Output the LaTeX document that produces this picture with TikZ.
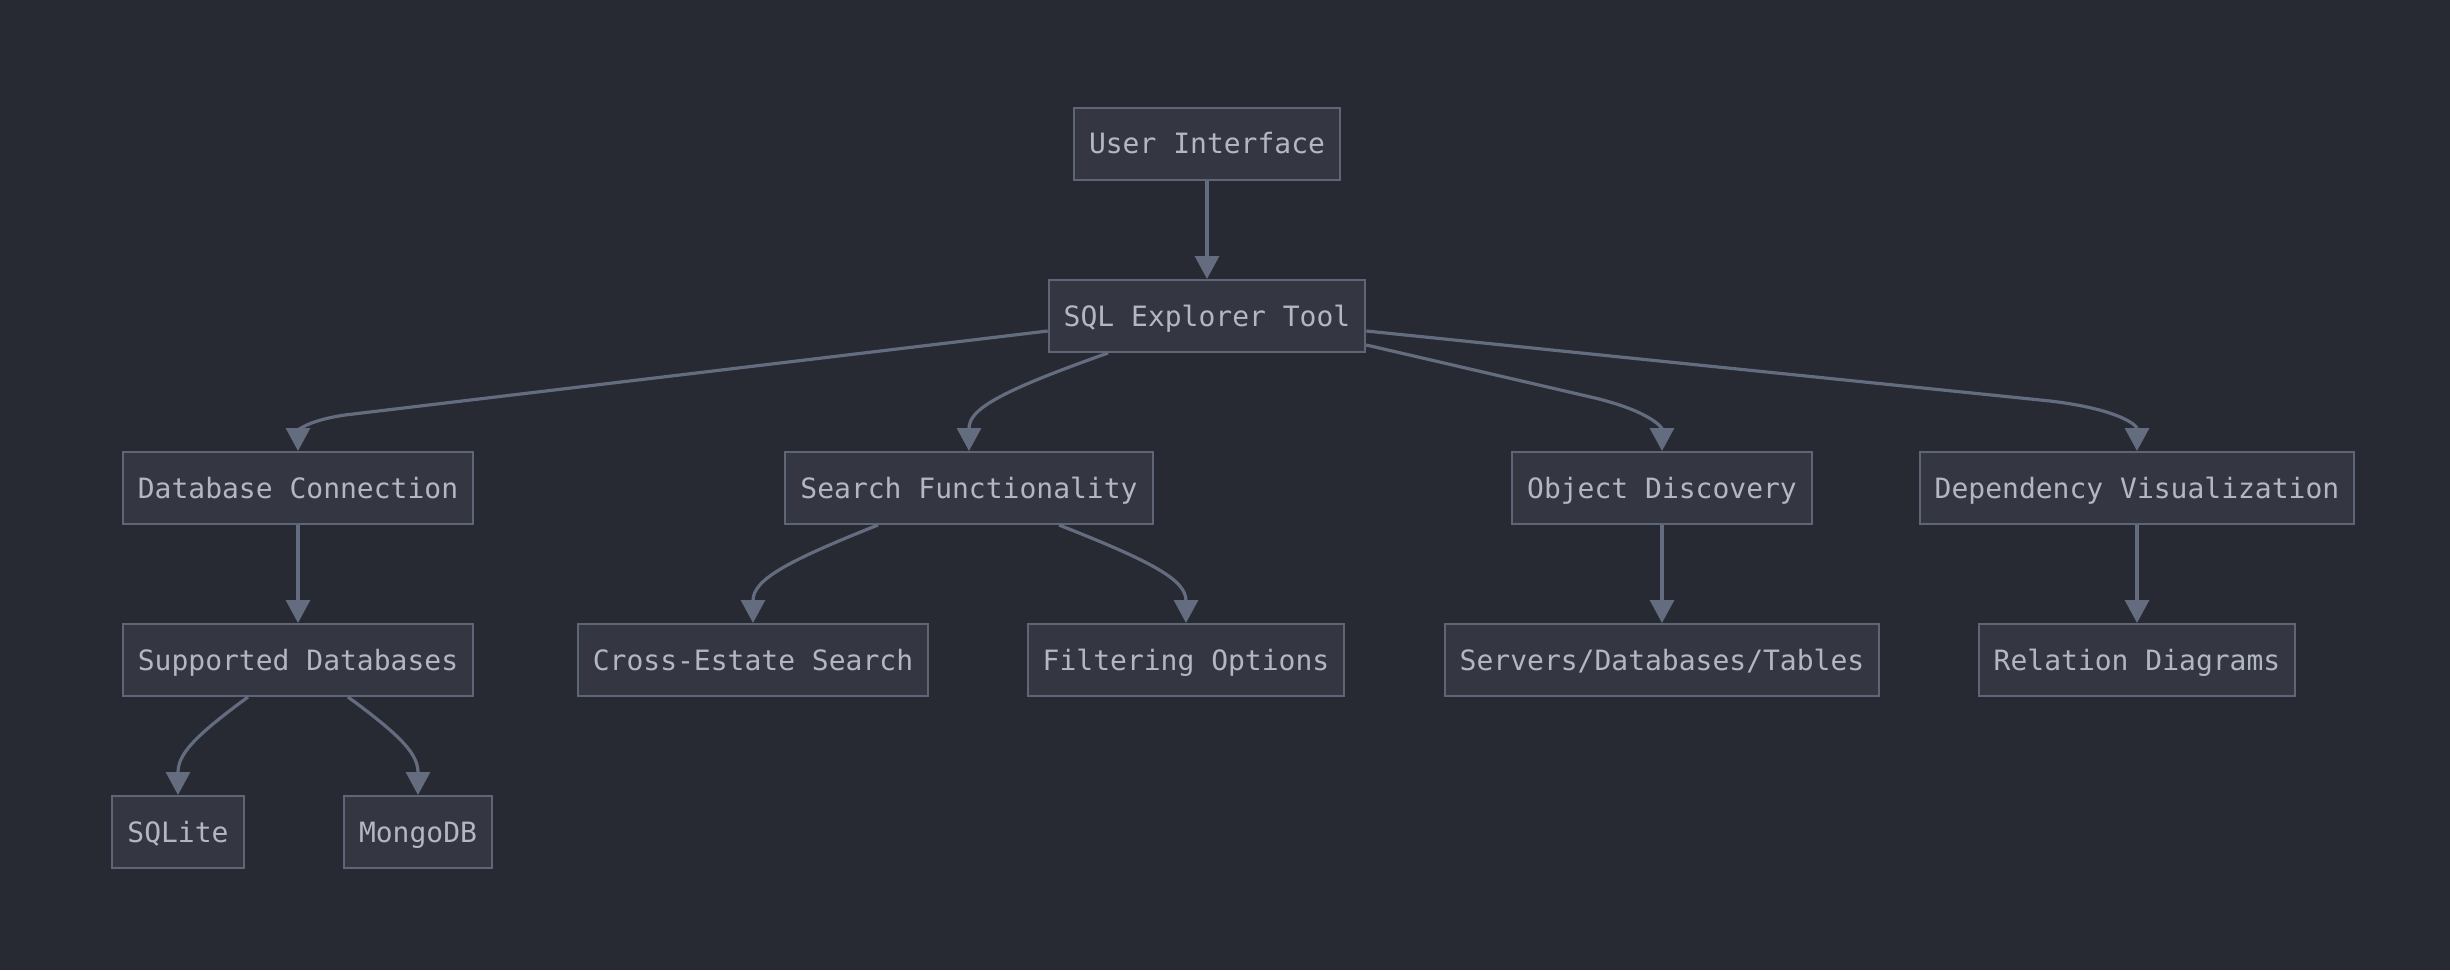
\documentclass[tikz,border=0pt]{standalone}
\usepackage{fontspec}
\newfontfamily\monofnt{DejaVu Sans Mono}
\usetikzlibrary{arrows.meta}
\definecolor{bgc}{HTML}{282A33}
\definecolor{boxfill}{HTML}{343742}
\definecolor{boxline}{HTML}{5E6577}
\definecolor{txt}{HTML}{B3B7C3}
\definecolor{edgec}{HTML}{646C80}
\tikzset{
  box/.style={draw=boxline, fill=boxfill, line width=2pt, text=txt,
    font=\monofnt\fontsize{28}{34}\selectfont, minimum height=72pt,
    text height=21pt, text depth=1pt,
    inner xsep=15pt, inner ysep=0pt, anchor=center},
  edge/.style={draw=edgec, line width=3.2pt,
    -{Triangle[length=23pt,width=24pt]}}
}
\begin{document}
\begin{tikzpicture}[x=1pt,y=-1pt]
\fill[bgc] (0,0) rectangle (2450,970);
\useasboundingbox (0,0) rectangle (2450,970);

\node[box] (ui)  at (1207,143.5) {User Interface};
\node[box] (sql) at (1207,316) {SQL Explorer Tool};

\node[box] (dbc) at (298,488) {Database Connection};
\node[box] (sf)  at (969,488) {Search Functionality};
\node[box] (od)  at (1662,488) {Object Discovery};
\node[box] (dv)  at (2137,488) {Dependency Visualization};

\node[box] (sdb) at (298,660) {Supported Databases};
\node[box] (ces) at (753,660) {Cross-Estate Search};
\node[box] (fo)  at (1186,660) {Filtering Options};
\node[box] (sdt) at (1662,660) {Servers/Databases/Tables};
\node[box] (rd)  at (2137,660) {Relation Diagrams};

\node[box] (sql2) at (178,832) {SQLite};
\node[box] (mdb)  at (418,832) {MongoDB};

\draw[edge] (ui.south) -- (sql.north);

\draw[edge] ([yshift=-15pt]sql.west) -- (345,415) .. controls (304,421) and (298,432) .. (dbc.north);
\draw[edge] ([xshift=-99pt]sql.south) .. controls (995,393) and (969,410) .. (sf.north);
\draw[edge] ([yshift=-29pt]sql.east) -- (1595,398) .. controls (1652,412) and (1662,428) .. (od.north);
\draw[edge] ([yshift=-15pt]sql.east) -- (2050,401) .. controls (2118,409) and (2137,425) .. (dv.north);

\draw[edge] (dbc.south) -- (sdb.north);
\draw[edge] ([xshift=-91pt]sf.south) .. controls (785,562) and (753,580) .. (ces.north);
\draw[edge] ([xshift=90pt]sf.south) .. controls (1153,562) and (1186,580) .. (fo.north);
\draw[edge] (od.south) -- (sdt.north);
\draw[edge] (dv.south) -- (rd.north);

\draw[edge] ([xshift=-50pt]sdb.south) .. controls (192,738) and (178,755) .. (sql2.north);
\draw[edge] ([xshift=50pt]sdb.south) .. controls (404,738) and (418,755) .. (mdb.north);
\end{tikzpicture}
\end{document}
